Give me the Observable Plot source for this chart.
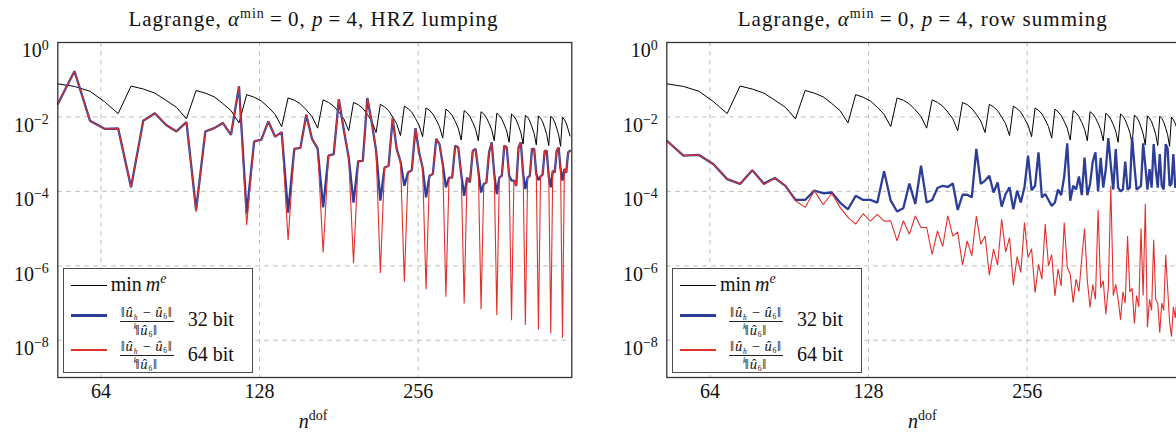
<!DOCTYPE html>
<html>
<head>
<meta charset="utf-8">
<script src="https://cdn.jsdelivr.net/npm/d3@7"></script>
<script src="https://cdn.jsdelivr.net/npm/@observablehq/plot@0.6"></script>
<style>
  html, body { margin: 0; padding: 0; background: #fff; overflow: hidden; }
  #fig { position: relative; width: 1176px; height: 435px; overflow: hidden;
         font-family: "Liberation Serif", "DejaVu Serif", serif; color: #111; }
  .panel { position: absolute; top: 0; width: 590px; height: 435px; }
  .panel svg { position: absolute; left: 0; top: 0; }
  .title { position: absolute; top: 8.5px; font-size: 21px; line-height: 20px;
           white-space: nowrap; transform: translateX(-50%); }
  .title sup, .xlab sup, .lab sup { font-size: 14px; vertical-align: 0; position: relative; top: -8px; }
  .xlab { position: absolute; top: 411px; font-size: 20px; line-height: 20px;
          white-space: nowrap; transform: translateX(-50%); }
  .legend { position: absolute; top: 268.3px; width: 190px; height: 105px; box-sizing: border-box;
            border: 1.3px solid #4d4d4d; background: #fff; }
  .sw { position: absolute; left: 7px; width: 36px; }
  .lab { position: absolute; font-size: 20px; line-height: 20px; white-space: nowrap; }
  .frac { position: absolute; transform: translateX(-50%); display: flex; flex-direction: column;
          align-items: center; font-size: 14.5px; letter-spacing: 0.8px; white-space: nowrap; }
  .frac .num { line-height: 17px; height: 17px; padding: 0 1px; border-bottom: 0.9px solid #222; }
  .frac .den { line-height: 16px; height: 16px; }
  .ss { display: inline-flex; flex-direction: column; font-size: 7.5px; line-height: 8.7px;
        vertical-align: -3px; font-style: italic; margin-right: 0.5px; }
  .frac sub { font-size: 7.5px; vertical-align: 0; position: relative; top: 2px; }
</style>
</head>
<body>
<div id="fig"></div>
<script>
// degrees of freedom of each discretisation
const nDof = [53, 57, 61, 65, 69, 73, 77, 81, 85, 89, 93, 97, 101, 105, 109, 113, 117, 121, 125, 129,
  133, 137, 141, 145, 149, 153, 157, 161, 165, 169, 173, 177, 181, 185, 189, 193, 197, 201, 205, 209,
  213, 217, 221, 225, 229, 233, 237, 241, 245, 249, 253, 257, 261, 265, 269, 273, 277, 281, 285, 289,
  293, 297, 301, 305, 309, 313, 317, 321, 325, 329, 333, 337, 341, 345, 349, 353, 357, 361, 365, 369,
  373, 377, 381, 385, 389, 393, 397, 401, 405, 409, 413, 417, 421, 425, 429, 433, 437, 441, 445, 449,
  453, 457, 461, 465, 469, 473, 477, 481, 485, 489, 493, 497];

// all series below are log10 of the plotted quantity
// smallest element mass min m^e
const minMassLog = [
  -1.11, -1.18, -1.31, -1.59, -1.91,
  -1.17, -1.25, -1.36, -1.55, -1.74, -2.05,
  -1.29, -1.36, -1.46, -1.64, -1.83, -2.16,
  -1.40, -1.47, -1.57, -1.74, -1.93, -2.26,
  -1.49, -1.55, -1.65, -1.81, -1.99, -2.30,
  -1.54, -1.61, -1.71, -1.87, -2.05, -2.37,
  -1.61, -1.67, -1.77, -1.93, -2.11, -2.42,
  -1.66, -1.73, -1.83, -2.00, -2.18, -2.50,
  -1.71, -1.78, -1.87, -2.04, -2.22, -2.53,
  -1.76, -1.82, -1.92, -2.08, -2.26, -2.57,
  -1.79, -1.86, -1.96, -2.12, -2.30, -2.62,
  -1.83, -1.89, -1.99, -2.15, -2.33, -2.64,
  -1.86, -1.92, -2.02, -2.17, -2.34, -2.64,
  -1.90, -1.96, -2.06, -2.21, -2.38, -2.68,
  -1.92, -1.98, -2.08, -2.24, -2.42, -2.73,
  -1.95, -2.01, -2.11, -2.27, -2.45, -2.75,
  -1.97, -2.03, -2.13, -2.29, -2.47, -2.77,
  -1.98, -2.04, -2.14, -2.30, -2.48, -2.79,
  -2.01, -2.07, -2.17, -2.33, -2.51];

// relative error, HRZ lumping, single precision
const hrz32Log = [
  -1.65, -0.77, -2.10, -2.32, -2.31,
  -3.89, -2.10, -1.90, -2.21, -2.39, -2.14,
  -4.50, -2.39, -2.30, -2.16, -2.48, -1.18,
  -4.60, -2.66, -2.61, -2.12, -2.53, -2.41,
  -4.57, -2.86, -2.83, -1.94, -2.59, -2.85,
  -4.43, -3.04, -3.00, -1.52, -2.35, -3.10,
  -4.30, -3.19, -3.18, -1.49, -2.15, -2.90,
  -4.25, -3.36, -3.31, -2.03, -2.85, -3.20,
  -3.85, -3.49, -3.43, -2.30, -2.95, -3.36,
  -4.16, -3.58, -3.53, -2.59, -2.73, -3.27,
  -3.89, -3.63, -3.63, -2.77, -2.82, -3.53,
  -4.12, -3.63, -3.76, -2.91, -2.86, -3.45,
  -4.03, -3.80, -3.76, -2.95, -2.68, -3.53,
  -4.07, -3.63, -3.58, -2.77, -2.82, -3.58,
  -3.71, -3.71, -3.85, -2.82, -2.68, -3.53,
  -3.94, -3.63, -3.58, -2.86, -2.86, -3.53,
  -3.70, -3.60, -3.55, -2.91, -2.91, -3.60,
  -3.89, -3.45, -3.49, -2.91, -2.82, -3.40,
  -3.71, -3.40, -3.50, -2.95, -2.91];

// relative error, HRZ lumping, double precision
const hrz64Log = [
  -1.65, -0.77, -2.10, -2.32, -2.31,
  -3.89, -2.10, -1.90, -2.21, -2.39, -2.14,
  -4.55, -2.39, -2.30, -2.16, -2.48, -1.18,
  -4.90, -2.66, -2.61, -2.12, -2.53, -2.41,
  -5.31, -2.86, -2.83, -1.94, -2.59, -2.85,
  -5.64, -3.04, -3.00, -1.52, -2.35, -3.10,
  -5.93, -3.19, -3.18, -1.49, -2.15, -2.90,
  -6.19, -3.36, -3.31, -2.03, -2.85, -3.20,
  -6.43, -3.49, -3.43, -2.30, -2.95, -3.36,
  -6.63, -3.58, -3.53, -2.59, -2.73, -3.27,
  -6.83, -3.63, -3.63, -2.77, -2.82, -3.53,
  -7.01, -3.63, -3.76, -2.91, -2.86, -3.45,
  -7.17, -3.80, -3.76, -2.95, -2.68, -3.53,
  -7.32, -3.63, -3.58, -2.77, -2.82, -3.58,
  -7.46, -3.71, -3.85, -2.82, -2.68, -3.53,
  -7.59, -3.63, -3.58, -2.86, -2.86, -3.53,
  -7.71, -3.60, -3.55, -2.91, -2.91, -3.60,
  -7.82, -3.45, -3.49, -2.91, -2.82, -3.40,
  -7.93, -3.40, -3.50, -2.95, -2.91];

// relative error, row summing, single precision
const row32Log = [
  -2.64, -3.04, -3.02, -3.27, -3.67,
  -3.80, -3.43, -3.79, -3.64, -3.85, -4.23,
  -4.23, -3.98, -4.05, -4.03, -4.30, -4.48,
  -4.12, -4.23, -4.23, -4.30, -3.46, -4.25,
  -4.54, -4.45, -3.79, -4.34, -3.31, -4.30,
  -4.23, -3.91, -3.85, -3.88, -3.79, -4.50,
  -4.09, -4.09, -4.16, -2.86, -3.80, -3.71,
  -3.58, -4.03, -3.76, -4.41, -4.07, -3.89,
  -4.48, -3.98, -4.30, -3.89, -3.04, -3.97,
  -3.85, -2.95, -4.16, -4.07, -4.23, -4.39,
  -4.30, -3.95, -4.10, -3.60, -2.71, -4.25,
  -3.85, -3.95, -3.60, -4.10, -3.09, -4.10,
  -3.80, -3.20, -2.95, -4.00, -3.10, -3.90,
  -3.40, -2.57, -3.30, -3.95, -2.86, -3.90,
  -4.00, -3.95, -3.20, -3.95, -3.90, -2.55,
  -3.30, -3.95, -3.90, -3.85, -2.71, -3.30,
  -3.95, -3.40, -3.90, -2.73, -3.40, -3.90,
  -3.00, -3.85, -3.95, -2.73, -2.85, -3.85,
  -3.80, -3.00, -3.90, -3.80, -3.10];

// relative error, row summing, double precision
const row64Log = [
  -2.64, -3.04, -3.02, -3.27, -3.67,
  -3.80, -3.43, -3.82, -3.64, -3.85, -4.25,
  -4.43, -3.98, -4.36, -4.05, -4.43, -4.70,
  -4.88, -4.60, -4.80, -4.62, -4.80, -4.79,
  -5.33, -4.79, -5.15, -4.66, -4.97, -4.97,
  -5.69, -5.06, -5.48, -4.66, -5.20, -5.09,
  -5.98, -5.33, -5.73, -4.66, -5.42, -5.20,
  -6.25, -5.55, -5.98, -4.75, -5.63, -5.24,
  -6.52, -5.75, -6.18, -4.84, -5.78, -5.54,
  -6.72, -5.96, -6.36, -4.88, -6.00, -5.70,
  -6.81, -6.09, -6.54, -4.84, -6.03, -6.23,
  -6.99, -6.36, -6.69, -5.80, -5.00, -6.40,
  -7.12, -6.50, -6.90, -4.50, -6.60, -6.40,
  -7.30, -6.60, -3.85, -6.80, -6.50, -6.90,
  -7.45, -6.70, -7.00, -5.20, -6.70, -6.60,
  -7.55, -6.80, -7.10, -5.00, -6.80, -4.34,
  -7.65, -6.90, -7.20, -5.30, -6.90, -7.00,
  -7.80, -7.00, -7.20, -5.70, -6.60, -7.50,
  -7.90, -7.10, -7.40, -6.80, -7.00];

const xTicks = [64, 128, 256];
const yTicks = [1e-8, 1e-6, 1e-4, 1e-2, 1];
const panels = [
  {title: "HRZ lumping", e32: hrz32Log, e64: hrz64Log, left: 0},
  {title: "row summing", e32: row32Log, e64: row64Log, left: 609.3}
];

const BLUE = "#2c3e98", RED = "#e1312a";
const fig = document.getElementById("fig");
const NS = "http://www.w3.org/2000/svg";

function rows(e32, e64) {
  return nDof.map((n, i) => ({n, m: 10 ** minMassLog[i], e32: 10 ** e32[i], e64: 10 ** e64[i]}));
}

// turn "10^-2" tick strings into a base with a raised exponent
function superscriptTicks(svg) {
  svg.querySelectorAll('g[aria-label="y-axis tick label"] text').forEach(t => {
    const [base, exp] = t.textContent.split("^");
    t.textContent = "";
    t.setAttribute("dy", "0.42em");
    const a = document.createElementNS(NS, "tspan");
    a.textContent = base;
    const b = document.createElementNS(NS, "tspan");
    b.setAttribute("font-size", "14");
    b.setAttribute("dy", "-0.55em");
    b.textContent = exp.replace("-", "\u2212");
    t.append(a, b);
  });
}

const numHTML = '\u2016<i>\u00fb</i><span class="ss"><span>h</span><span>k</span></span>\u2009\u2212\u2009<i>\u00fb</i><sub>6</sub>\u2016';
const denHTML = '\u2016<i>\u00fb</i><sub>6</sub>\u2016';

function addLegend(panel) {
  const box = document.createElement("div");
  box.className = "legend";
  box.style.left = "62.7px";
  const items = [
    {y: 16.1, color: "#000", w: 1.6},
    {y: 46.1, color: BLUE, w: 2.6},
    {y: 81.1, color: RED, w: 1.9}
  ];
  for (const it of items) {
    const s = document.createElement("div");
    s.className = "sw";
    s.style.top = (it.y - it.w / 2) + "px";
    s.style.height = it.w + "px";
    s.style.background = it.color;
    box.append(s);
  }
  const l1 = document.createElement("div");
  l1.className = "lab";
  l1.style.left = "47px"; l1.style.top = "4.6px";
  l1.innerHTML = 'min\u2009<i>m</i><sup><i>e</i></sup>';
  box.append(l1);
  for (const [barY, txt] of [[52.4, "32 bit"], [87.1, "64 bit"]]) {
    const f = document.createElement("div");
    f.className = "frac";
    f.style.left = "83px";
    f.style.top = (barY - 17.9) + "px";
    f.innerHTML = `<div class="num">${numHTML}</div><div class="den">${denHTML}</div>`;
    box.append(f);
    const l = document.createElement("div");
    l.className = "lab";
    l.style.left = "124px"; l.style.top = (barY - 12.8) + "px";
    l.textContent = txt;
    box.append(l);
  }
  panel.append(box);
}

const titles = [];
for (const p of panels) {
  const data = rows(p.e32, p.e64);
  const chart = Plot.plot({
    width: 590, height: 435,
    marginLeft: 57.3, marginRight: 18.7, marginTop: 42, marginBottom: 58,
    x: {type: "log", domain: [53, 501], axis: null},
    y: {type: "log", domain: [1e-9, 1], axis: null},
    style: {fontFamily: "Liberation Serif, DejaVu Serif, serif", fontSize: "20px", color: "#111", background: "transparent", overflow: "visible"},
    marks: [
      Plot.gridX(xTicks, {stroke: "#bdbdbd", strokeOpacity: 1, strokeWidth: 1, strokeDasharray: "4.5,4.5"}),
      Plot.gridY(yTicks.slice(0, 4), {stroke: "#bdbdbd", strokeOpacity: 1, strokeWidth: 1, strokeDasharray: "4.5,4.5"}),
      Plot.axisX(xTicks, {tickSize: 0, tickPadding: 6.5, tickFormat: d => String(d), fontSize: 20, label: null}),
      Plot.axisY(yTicks, {tickSize: 0, tickPadding: 9, tickFormat: d => "10^" + Math.round(Math.log10(d)), fontSize: 20, label: null}),
      Plot.line(data, {x: "n", y: "m", stroke: "#000", strokeWidth: 1, clip: true}),
      Plot.line(data, {x: "n", y: "e32", stroke: BLUE, strokeWidth: 2.3, strokeLinejoin: "miter", clip: true}),
      Plot.line(data, {x: "n", y: "e64", stroke: RED, strokeWidth: 1.1, strokeLinejoin: "miter", clip: true}),
      Plot.frame({stroke: "#333", strokeWidth: 1.3})
    ]
  });
  superscriptTicks(chart);

  const panel = document.createElement("div");
  panel.className = "panel";
  panel.style.left = p.left + "px";
  panel.append(chart);

  const title = document.createElement("div");
  title.className = "title";
  title.style.left = "313.5px";
  title.innerHTML = `Lagrange, <i>\u03b1</i><sup>min</sup>\u2009=\u20090, <i>p</i>\u2009=\u20094, ${p.title}`;
  panel.append(title);
  titles.push(title);

  const xlab = document.createElement("div");
  xlab.className = "xlab";
  xlab.style.left = "313px";
  xlab.innerHTML = '<i>n</i><sup>dof</sup>';
  panel.append(xlab);

  addLegend(panel);
  fig.append(panel);
}

// spread the title glyphs so each title spans the width of the plot heading
for (const t of titles) {
  const w = t.getBoundingClientRect().width;
  const chars = t.textContent.length;
  t.style.letterSpacing = Math.max(0, (370 - w) / chars).toFixed(2) + "px";
}
</script>
</body>
</html>
